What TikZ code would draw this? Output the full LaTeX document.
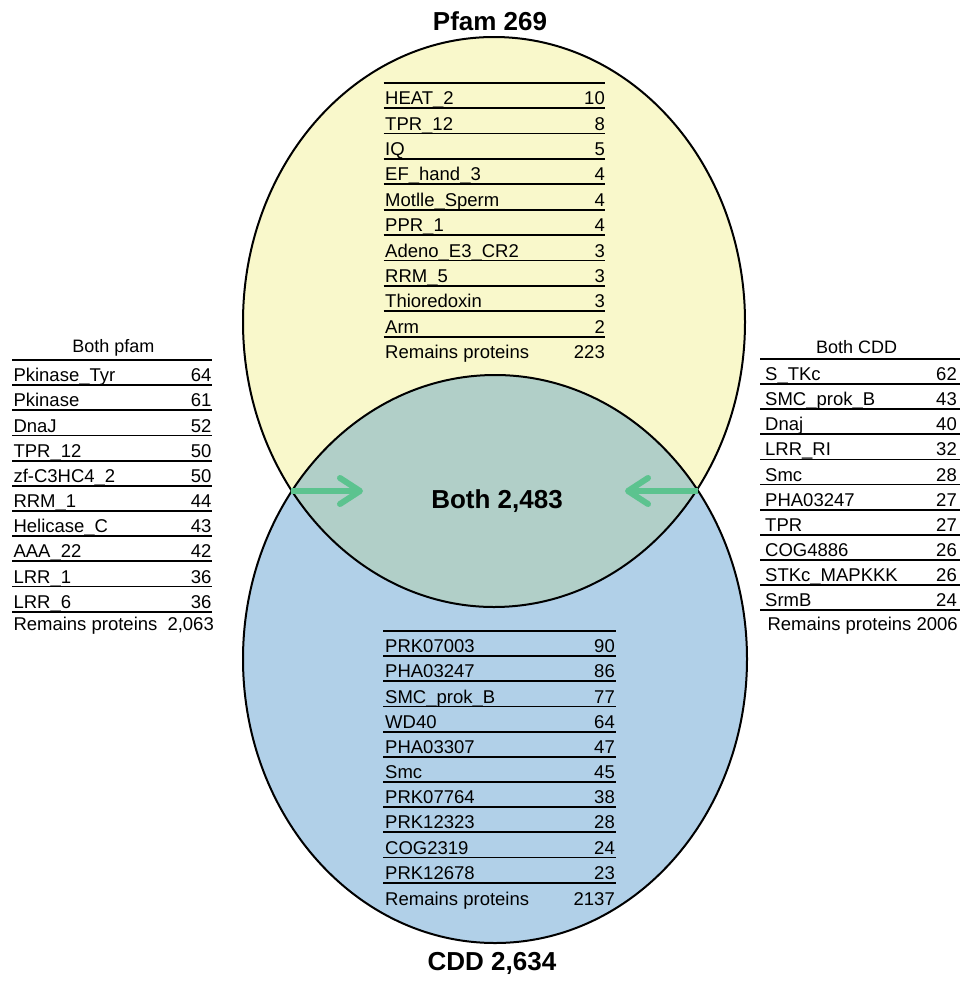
\documentclass[tikz,border=0pt]{standalone}
\usepackage{fontspec}
\setmainfont{Liberation Sans}
\usetikzlibrary{arrows.meta,positioning}
\definecolor{ink}{HTML}{000000}
\definecolor{pfamfill}{HTML}{F9F8CB}
\definecolor{cddfill}{HTML}{B1D0E8}
\definecolor{bothfill}{HTML}{B1CFC8}
\definecolor{arrowgreen}{HTML}{5CC38F}
\tikzset{
  outline/.style={draw=ink,line width=2pt},
  rule/.style={draw=ink,line width=1.8pt},
  cell/.style={font=\fontsize{18.5}{20}\selectfont,text=ink,inner sep=0pt,anchor=base west},
  num/.style={cell,anchor=base east},
  head/.style={font=\fontsize{18}{20}\selectfont,text=ink,inner sep=0pt,anchor=base},
  title/.style={font=\bfseries\fontsize{26}{29}\selectfont,text=ink,inner sep=0pt,anchor=base},
  ar/.style={-{Straight Barb[length=20pt,width=26pt,round]},draw=arrowgreen,line width=6pt},
}

\begin{document}
\begin{tikzpicture}[x=1pt,y=-1pt]
  \useasboundingbox (0,0) rectangle (960,985);

  % the two sets and their overlap
  \fill[pfamfill] (494,322) ellipse [x radius=251, y radius=285];
  \fill[cddfill] (495,659) ellipse [x radius=252, y radius=284];
  \begin{scope}
    \clip (494,322) ellipse [x radius=251, y radius=285];
    \fill[bothfill] (495,659) ellipse [x radius=252, y radius=284];
  \end{scope}
  \draw[outline] (494,322) ellipse [x radius=251, y radius=285];
  \draw[outline] (495,659) ellipse [x radius=252, y radius=284];

  \node[title] (pfam) at (490,30) {Pfam 269};
  \node[title] (cdd) at (492,970) {CDD 2,634};
  \node[title] (both) at (497,508) {Both 2,483};

  % pfam only
  \draw[rule] (383.5,82.7) -- (605,82.7);
  \foreach \name/\cnt [count=\i] in {HEAT\_2/10,TPR\_12/8,IQ/5,EF\_hand\_3/4,Motlle\_Sperm/4,PPR\_1/4,Adeno\_E3\_CR2/3,RRM\_5/3,Thioredoxin/3,Arm/2}{
    \node[cell] (pf-n\i) at (385,{82.7+25.4*\i-3.5}) {\name};
    \node[num] (pf-c\i) at (605,{82.7+25.4*\i-3.5}) {\cnt};
    \draw[rule] (383.5,{82.7+25.4*\i}) -- (605,{82.7+25.4*\i});
  }
  \node[cell] (pf-rest) at (385,358.5) {Remains proteins};
  \node[num] (pf-restc) at (605,358.5) {223};

  % cdd only
  \draw[rule] (383,631) -- (616,631);
  \foreach \name/\cnt [count=\i] in {PRK07003/90,PHA03247/86,SMC\_prok\_B/77,WD40/64,PHA03307/47,Smc/45,PRK07764/38,PRK12323/28,COG2319/24,PRK12678/23}{
    \node[cell] (cd-n\i) at (385,{631+25.17*\i-3.5}) {\name};
    \node[num] (cd-c\i) at (615,{631+25.17*\i-3.5}) {\cnt};
    \draw[rule] (383,{631+25.17*\i}) -- (616,{631+25.17*\i});
  }
  \node[cell] (cd-rest) at (385,905) {Remains proteins};
  \node[num] (cd-restc) at (615,905) {2137};

  % both, counted with pfam
  \node[head] (bp) at (113.3,352.7) {Both pfam};
  \draw[rule] (12,360) -- (212,360);
  \foreach \name/\cnt [count=\i] in {Pkinase\_Tyr/64,Pkinase/61,DnaJ/52,TPR\_12/50,zf-C3HC4\_2/50,RRM\_1/44,Helicase\_C/43,AAA\_22/42,LRR\_1/36,LRR\_6/36}{
    \node[cell] (bp-n\i) at (13.3,{360+25.17*\i-3.5}) {\name};
    \node[num] (bp-c\i) at (211.7,{360+25.17*\i-3.5}) {\cnt};
    \draw[rule] (12,{360+25.17*\i}) -- (212,{360+25.17*\i});
  }
  \node[cell] (bp-rest) at (13.3,630) {Remains proteins};
  \node[num] (bp-restc) at (214,630) {2,063};

  % both, counted with cdd
  \node[head] (bc) at (856.7,353) {Both CDD};
  \draw[rule] (760,359) -- (960,359);
  \foreach \name/\cnt [count=\i] in {S\_TKc/62,SMC\_prok\_B/43,Dnaj/40,LRR\_RI/32,Smc/28,PHA03247/27,TPR/27,COG4886/26,STKc\_MAPKKK/26,SrmB/24}{
    \node[cell] (bc-n\i) at (765,{359+25.1*\i-3.5}) {\name};
    \node[num] (bc-c\i) at (957,{359+25.1*\i-3.5}) {\cnt};
    \draw[rule] (760,{359+25.1*\i}) -- (960,{359+25.1*\i});
  }
  \node[num] (bc-rest) at (958,630) {Remains proteins 2006};

  % arrows into the overlap
  \coordinate (xl) at (291,491);
  \coordinate (xr) at (698,491);
  \coordinate (xl-tip) at (363,491);
  \coordinate (xr-tip) at (625,491);
  \draw[ar] (xl) -- (xl-tip);
  \draw[ar] (xr) -- (xr-tip);
\end{tikzpicture}
\end{document}
